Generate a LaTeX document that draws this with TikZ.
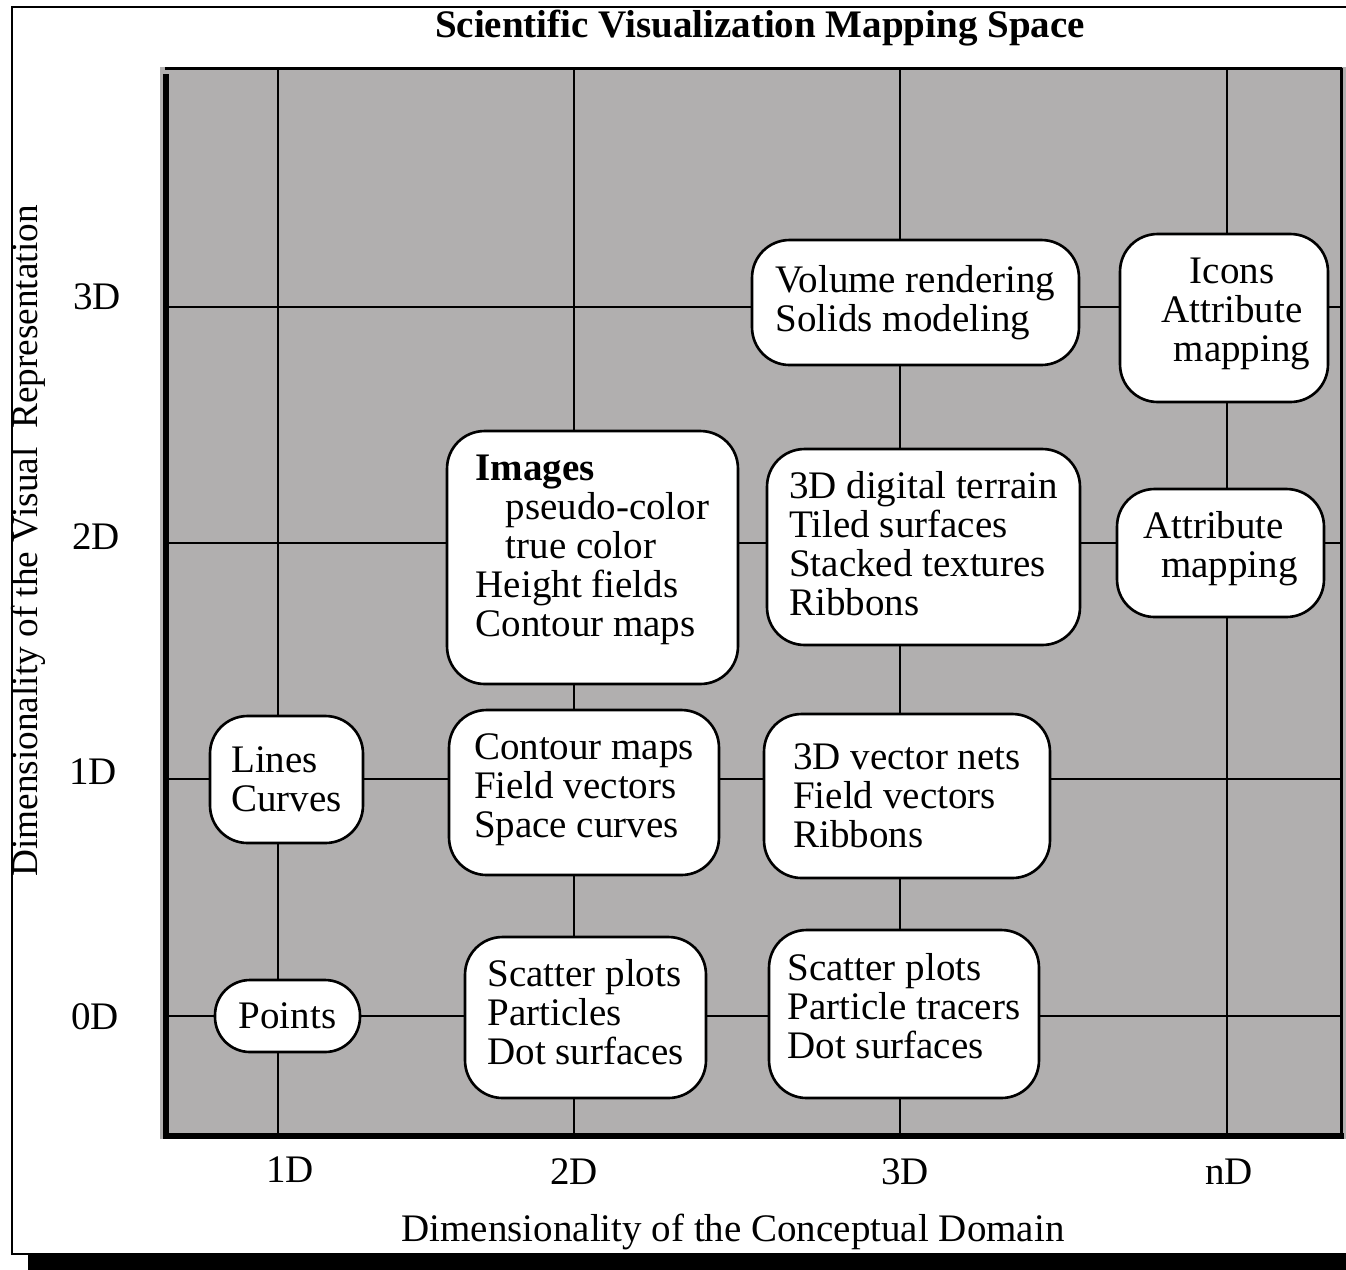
\documentclass[tikz,border=0pt]{standalone}
\usepackage{fontspec}
\setmainfont{Liberation Serif}
\usepackage{xcolor}

\definecolor{panel}{RGB}{177,175,175}

\begin{document}
\begin{tikzpicture}[x=0.02cm,y=-0.02cm,
    font=\fontsize{22.2pt}{22.2pt}\selectfont,
    cell/.style={draw,fill=white,line width=1.5pt,rounded corners=0.75cm,
                 align=left,inner sep=0pt},
    lift/.style={execute at end node={\rule[-#1]{0pt}{0pt}}},
    gridline/.style={line width=1.6pt}]
		\useasboundingbox (0,0) rectangle (1346,1269);

		% frame with its drop shadow
		\fill (28,1254) rectangle (1360,1280);
		\draw[line width=1.1pt,fill=white] (12,7) rectangle (1360,1254);

		% mapping space panel
		\fill[panel] (160,67) rectangle (1346,1139);
		\foreach \gx in {278,574,900,1227}
			\draw[gridline] (\gx,70) -- (\gx,1133);
		\foreach \gy in {307,543,779,1016}
			\draw[gridline] (166,\gy) -- (1341,\gy);
		\draw[line width=1.7pt] (165,68.5) -- (1342,68.5);
		\draw[line width=1.7pt] (1341.5,68) -- (1341.5,1136);
		\draw[line width=3.4pt] (166,74) -- (166,1136) -- (1344,1136);

		\node (title) at (760,28) {\bfseries Scientific Visualization Mapping Space};

		% row and column labels
		\node (row3) at (97,297) {3D};
		\node (row2) at (96,537) {2D};
		\node (row1) at (93,772) {1D};
		\node (row0) at (95,1017) {0D};
		\node (col1) at (290,1170) {1D};
		\node (col2) at (574,1172) {2D};
		\node (col3) at (905,1172) {3D};
		\node (coln) at (1229,1172) {nD};
		\node (xlabel) at (733,1232) {Dimensionality of the Conceptual Domain};
		\node[rotate=90,font=\fontsize{21.2pt}{21.2pt}\selectfont] (ylabel) at (28,541)
			{Dimensionality of the Visual\ \ Representation};

		% techniques
		\node[cell,minimum width=2.9cm,minimum height=1.44cm,rounded corners=0.7cm]
			(points) at (287.5,1016) {Points};
		\node[cell,minimum width=3.06cm,minimum height=2.54cm]
			(lines) at (286.5,779.5) {Lines\\Curves};
		\node[cell,lift=0.24cm,minimum width=4.82cm,minimum height=3.22cm]
			(scatterA) at (585.5,1017.5) {Scatter plots\\Particles\\Dot surfaces};
		\node[cell,lift=0.32cm,minimum width=5.4cm,minimum height=3.36cm]
			(scatterB) at (904,1014) {Scatter plots\\Particle tracers\\Dot surfaces};
		\node[cell,lift=0.29cm,minimum width=5.4cm,minimum height=3.3cm]
			(fieldA) at (584,792.5) {Contour maps\\Field vectors\\Space curves};
		\node[cell,minimum width=5.72cm,minimum height=3.28cm]
			(fieldB) at (907,796) {3D vector nets\\Field vectors\\Ribbons};
		\node[cell,lift=0.49cm,minimum width=5.82cm,minimum height=5.06cm]
			(images) at (592.5,557.5) {\textbf{Images}\\\hspace*{0.6cm}pseudo-color\\
			\hspace*{0.6cm}true color\\Height fields\\Contour maps};
		\node[cell,lift=0.16cm,minimum width=6.26cm,minimum height=3.92cm]
			(terrain) at (923.5,547) {3D digital terrain\\Tiled surfaces\\
			Stacked textures\\Ribbons};
		\node[cell,lift=0.33cm,minimum width=4.14cm,minimum height=2.56cm]
			(attrmap) at (1220.5,553) {Attribute\\\hspace*{0.36cm}mapping};
		\node[cell,minimum width=6.54cm,minimum height=2.5cm]
			(volume) at (915.5,302.5) {Volume rendering\\Solids modeling};
		\node[cell,lift=0.33cm,minimum width=4.16cm,minimum height=3.36cm]
			(icons) at (1224,318) {\hspace*{1.04cm}Icons\\\hspace*{0.48cm}Attribute\\
			\hspace*{0.72cm}mapping};

\end{tikzpicture}
\end{document}
